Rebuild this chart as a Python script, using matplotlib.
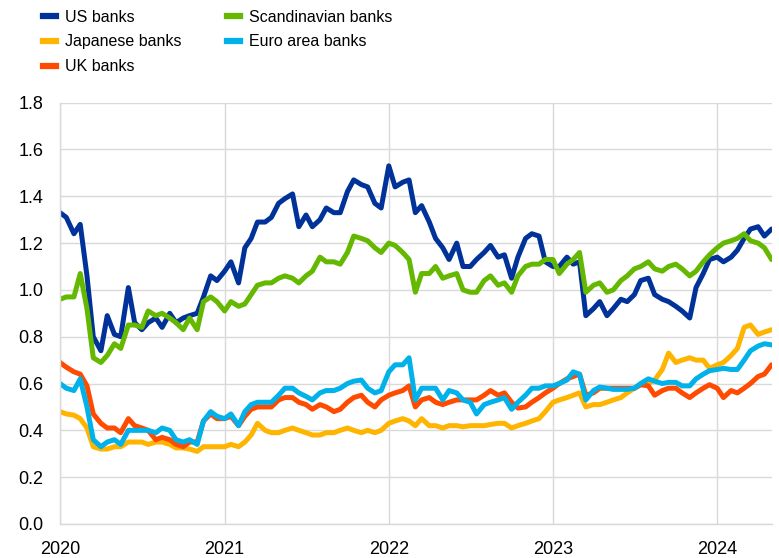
import pandas as pd
import numpy as np
import matplotlib
matplotlib.use('Agg')
import matplotlib.pyplot as plt
from matplotlib.lines import Line2D

plt.rcParams['font.family'] = ['Liberation Sans', 'DejaVu Sans']

# datas quinzenais (1 e 15 de cada mês), jan/2020 a mai/2024
datas = pd.date_range('2020-01-01', '2024-05-01', freq='SMS')

us_banks = [
    1.33, 1.31, 1.24, 1.28, 1.06, 0.80, 0.74, 0.89, 0.81, 0.80, 1.01, 0.86,
    0.83, 0.86, 0.88, 0.84, 0.90, 0.86, 0.88, 0.89, 0.90, 0.97, 1.06, 1.04,
    1.08, 1.12, 1.03, 1.18, 1.22, 1.29, 1.29, 1.31, 1.37, 1.39, 1.41, 1.27,
    1.32, 1.27, 1.30, 1.35, 1.33, 1.33, 1.42, 1.47, 1.45, 1.44, 1.37, 1.35,
    1.53, 1.44, 1.46, 1.47, 1.33, 1.36, 1.29, 1.22, 1.18, 1.13, 1.20, 1.10,
    1.10, 1.13, 1.16, 1.19, 1.14, 1.15, 1.05, 1.14, 1.22, 1.24, 1.23, 1.12,
    1.10, 1.10, 1.14, 1.11, 1.12, 0.89, 0.92, 0.95, 0.89, 0.92, 0.96, 0.95,
    0.98, 1.04, 1.05, 0.98, 0.96, 0.95, 0.93, 0.91, 0.88, 1.01, 1.07, 1.13,
    1.14, 1.12, 1.14, 1.17, 1.22, 1.26, 1.27, 1.23, 1.26,
]
japanese_banks = [
    0.48, 0.47, 0.465, 0.45, 0.41, 0.33, 0.32, 0.32, 0.33, 0.33, 0.35, 0.35,
    0.35, 0.34, 0.35, 0.35, 0.34, 0.325, 0.325, 0.32, 0.31, 0.33, 0.33, 0.33,
    0.33, 0.34, 0.33, 0.35, 0.38, 0.43, 0.40, 0.39, 0.39, 0.40, 0.41, 0.40,
    0.39, 0.38, 0.38, 0.39, 0.39, 0.40, 0.41, 0.40, 0.39, 0.40, 0.39, 0.40,
    0.43, 0.44, 0.45, 0.44, 0.42, 0.45, 0.42, 0.42, 0.41, 0.42, 0.42, 0.415,
    0.42, 0.42, 0.42, 0.425, 0.43, 0.43, 0.41, 0.42, 0.43, 0.44, 0.45, 0.48,
    0.52, 0.53, 0.54, 0.55, 0.56, 0.50, 0.51, 0.51, 0.52, 0.53, 0.54, 0.56,
    0.58, 0.595, 0.60, 0.615, 0.66, 0.73, 0.69, 0.70, 0.71, 0.70, 0.70, 0.665,
    0.68, 0.69, 0.72, 0.75, 0.84, 0.85, 0.81, 0.82, 0.83,
]
uk_banks = [
    0.69, 0.67, 0.65, 0.64, 0.59, 0.47, 0.43, 0.41, 0.41, 0.39, 0.45, 0.42,
    0.41, 0.40, 0.36, 0.37, 0.36, 0.34, 0.33, 0.35, 0.35, 0.44, 0.47, 0.45,
    0.45, 0.46, 0.42, 0.46, 0.49, 0.50, 0.50, 0.50, 0.53, 0.54, 0.54, 0.52,
    0.51, 0.49, 0.51, 0.50, 0.48, 0.49, 0.52, 0.54, 0.55, 0.52, 0.50, 0.53,
    0.55, 0.56, 0.57, 0.59, 0.50, 0.53, 0.54, 0.52, 0.51, 0.52, 0.53, 0.53,
    0.53, 0.53, 0.55, 0.57, 0.55, 0.56, 0.52, 0.495, 0.50, 0.52, 0.54, 0.56,
    0.58, 0.60, 0.62, 0.63, 0.64, 0.55, 0.56, 0.58, 0.58, 0.58, 0.58, 0.58,
    0.58, 0.595, 0.59, 0.55, 0.57, 0.58, 0.58, 0.56, 0.54, 0.56, 0.58, 0.595,
    0.58, 0.54, 0.57, 0.56, 0.58, 0.60, 0.63, 0.64, 0.68,
]
scandinavian_banks = [
    0.96, 0.97, 0.97, 1.07, 0.92, 0.71, 0.69, 0.72, 0.77, 0.75, 0.85, 0.85,
    0.84, 0.91, 0.89, 0.90, 0.88, 0.86, 0.83, 0.88, 0.83, 0.95, 0.97, 0.95,
    0.91, 0.95, 0.93, 0.94, 0.98, 1.02, 1.03, 1.03, 1.05, 1.06, 1.05, 1.03,
    1.06, 1.08, 1.14, 1.12, 1.12, 1.11, 1.16, 1.23, 1.22, 1.21, 1.18, 1.16,
    1.20, 1.19, 1.16, 1.13, 0.99, 1.07, 1.07, 1.10, 1.05, 1.06, 1.07, 1.00,
    0.99, 0.99, 1.04, 1.06, 1.02, 1.03, 0.99, 1.06, 1.10, 1.11, 1.11, 1.13,
    1.13, 1.07, 1.11, 1.13, 1.16, 0.99, 1.02, 1.03, 0.99, 1.00, 1.04, 1.06,
    1.09, 1.10, 1.12, 1.09, 1.08, 1.10, 1.11, 1.09, 1.06, 1.08, 1.12, 1.15,
    1.18, 1.20, 1.21, 1.22, 1.24, 1.21, 1.20, 1.18, 1.13,
]
euro_area_banks = [
    0.60, 0.58, 0.57, 0.62, 0.50, 0.36, 0.33, 0.35, 0.36, 0.34, 0.40, 0.40,
    0.40, 0.40, 0.39, 0.41, 0.40, 0.36, 0.35, 0.36, 0.34, 0.44, 0.48, 0.46,
    0.45, 0.47, 0.42, 0.48, 0.51, 0.52, 0.52, 0.52, 0.55, 0.58, 0.58, 0.56,
    0.545, 0.53, 0.56, 0.57, 0.57, 0.58, 0.60, 0.61, 0.615, 0.58, 0.56, 0.57,
    0.65, 0.68, 0.68, 0.71, 0.53, 0.58, 0.58, 0.58, 0.53, 0.57, 0.56, 0.53,
    0.52, 0.47, 0.51, 0.52, 0.53, 0.54, 0.49, 0.52, 0.55, 0.58, 0.58, 0.59,
    0.59, 0.60, 0.615, 0.65, 0.64, 0.53, 0.57, 0.585, 0.58, 0.575, 0.575, 0.575,
    0.58, 0.60, 0.62, 0.61, 0.60, 0.605, 0.605, 0.59, 0.59, 0.62, 0.64, 0.655,
    0.66, 0.665, 0.66, 0.66, 0.70, 0.74, 0.76, 0.77, 0.765,
]

series = [
    ('US banks', us_banks, '#003299'),
    ('Japanese banks', japanese_banks, '#FFB400'),
    ('UK banks', uk_banks, '#FF4B00'),
    ('Scandinavian banks', scandinavian_banks, '#65B800'),
    ('Euro area banks', euro_area_banks, '#00B1EA'),
]

fig = plt.figure(figsize=(7.79, 5.58), dpi=100)
ax = fig.add_axes([0.077, 0.061, 0.9135, 0.755])

for nome, valores, cor in series:
    ax.plot(datas, valores, color=cor, linewidth=3.6, solid_joinstyle='round',
            solid_capstyle='round')

anos = pd.to_datetime(['2020-01-01', '2021-01-01', '2022-01-01', '2023-01-01', '2024-01-01'])
ax.set_xticks(anos)
ax.set_xticklabels(['2020', '2021', '2022', '2023', '2024'])
ax.set_xlim(pd.Timestamp('2020-01-01'), pd.Timestamp('2024-05-01'))
ax.set_ylim(0, 1.8)
ax.set_yticks(np.arange(0, 1.81, 0.2))
ax.set_yticklabels([f'{v:.1f}' for v in np.arange(0, 1.81, 0.2)])

ax.grid(True, color='#d9d9d9', linewidth=1)
ax.set_axisbelow(True)
for lado in ['top', 'right']:
    ax.spines[lado].set_visible(False)
for lado in ['left', 'bottom']:
    ax.spines[lado].set_color('#d9d9d9')
    ax.spines[lado].set_linewidth(1)
ax.tick_params(axis='both', length=0, labelsize=13, colors='black')
ax.tick_params(axis='y', pad=12)
ax.tick_params(axis='x', pad=12)

# legenda em duas colunas
handles = [Line2D([0], [0], color=cor, linewidth=4.5) for _, _, cor in series]
labels = [nome for nome, _, _ in series]
fig.legend(handles, labels, ncol=2, loc='upper left', bbox_to_anchor=(0.043, 1.0),
           frameon=False, fontsize=11.5,
           handlelength=0.8, handletextpad=0.55, columnspacing=2.9,
           labelspacing=0.62, borderaxespad=0.2)

fig.savefig('out.png', dpi=100)
